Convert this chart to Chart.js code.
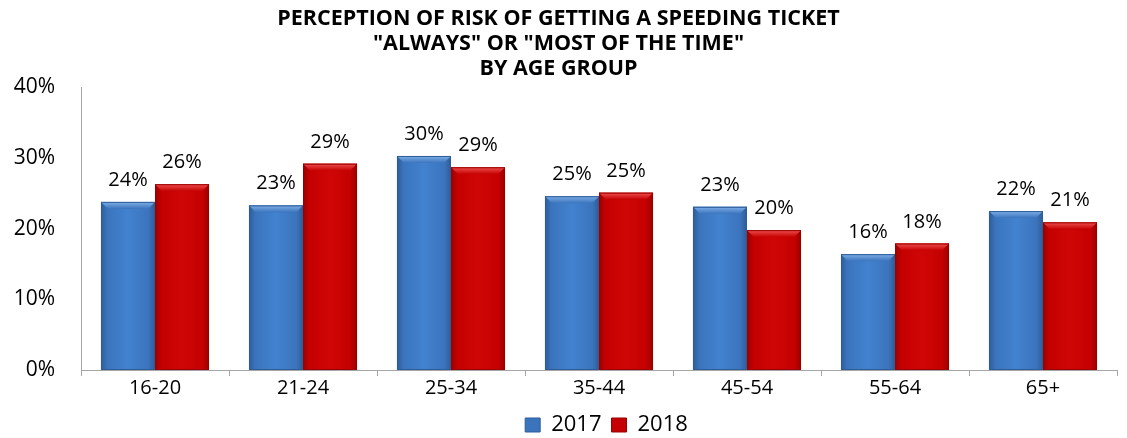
<!DOCTYPE html>
<html>
<head>
<meta charset="utf-8">
<script src="https://cdn.jsdelivr.net/npm/chart.js@4"></script>
<style>
html,body{margin:0;padding:0;background:#fff;}
#wrap{width:1127px;height:438px;position:relative;}
</style>
</head>
<body>
<div id="wrap"><canvas id="c" width="1127" height="438"></canvas></div>
<script>
const categories = ["16-20","21-24","25-34","35-44","45-54","55-64","65+"];
const series2017 = [23.8, 23.3, 30.3, 24.6, 23.1, 16.4, 22.5];
const series2018 = [26.3, 29.2, 28.7, 25.1, 19.8, 17.9, 20.9];
const labels2017 = ["24%","23%","30%","25%","23%","16%","22%"];
const labels2018 = ["26%","29%","29%","25%","20%","18%","21%"];
const yTicks = [0, 10, 20, 30, 40];
const titleLines = ["PERCEPTION OF RISK OF GETTING A SPEEDING TICKET", "\"ALWAYS\" OR \"MOST OF THE TIME\"", "BY AGE GROUP"];

const FONT = "'Open Sans', 'Liberation Sans', sans-serif";

function barGradient(ctx, el, dark, mid, light) {
  const g = ctx.createLinearGradient(el.x - el.width/2, 0, el.x + el.width/2, 0);
  g.addColorStop(0, dark);
  g.addColorStop(0.12, mid);
  g.addColorStop(0.5, light);
  g.addColorStop(0.88, mid);
  g.addColorStop(1, dark);
  return g;
}

const palette = [
  {dark:'#2E5C97', mid:'#3B74BD', light:'#4282CF', top:'#7FB0E8'},
  {dark:'#990000', mid:'#C40000', light:'#D00606', top:'#F05050'}
];

const bevelPlugin = {
  id: 'bevel',
  afterLayout(chart) {
    const lg = chart.legend;
    if (lg) { lg.top += 8; lg.bottom += 8; lg.left += 48; lg.right += 48; }
  },
  afterDatasetsDraw(chart) {
    const ctx = chart.ctx;
    chart.data.datasets.forEach((ds, di) => {
      const meta = chart.getDatasetMeta(di);
      const p = palette[di];
      meta.data.forEach((el) => {
        const left = el.x - el.width/2, right = el.x + el.width/2;
        const top = el.y, bottom = el.base;
        const b = Math.min(7, el.width/6);
        ctx.save();
        ctx.fillStyle = barGradient(ctx, el, p.dark, p.mid, p.light);
        ctx.fillRect(left, top, right-left, bottom-top);
        const tg = ctx.createLinearGradient(0, top, 0, top + b);
        tg.addColorStop(0, p.top);
        tg.addColorStop(1, p.mid);
        ctx.fillStyle = tg;
        ctx.beginPath();
        ctx.moveTo(left, top);
        ctx.lineTo(right, top);
        ctx.lineTo(right - b, top + b);
        ctx.lineTo(left + b, top + b);
        ctx.closePath();
        ctx.fill();
        ctx.strokeStyle = p.dark;
        ctx.lineWidth = 1;
        ctx.strokeRect(left + 0.5, top + 0.5, right-left-1, bottom-top-1);
        ctx.restore();
      });
    });
  }
};

const labelPlugin = {
  id: 'valueLabels',
  afterDatasetsDraw(chart) {
    const ctx = chart.ctx;
    const lbls = [labels2017, labels2018];
    ctx.save();
    ctx.font = "20px " + FONT;
    ctx.fillStyle = '#000';
    ctx.textAlign = 'center';
    ctx.textBaseline = 'alphabetic';
    chart.data.datasets.forEach((ds, di) => {
      const meta = chart.getDatasetMeta(di);
      meta.data.forEach((el, i) => {
        ctx.fillText(lbls[di][i], el.x, el.y - 16);
      });
    });
    ctx.restore();
  }
};

new Chart(document.getElementById('c'), {
  type: 'bar',
  data: {
    labels: categories,
    datasets: [
      {label: '2017', data: series2017, backgroundColor: '#3B74BD', borderWidth: 0},
      {label: '2018', data: series2018, backgroundColor: '#C40000', borderWidth: 0}
    ]
  },
  options: {
    responsive: false,
    animation: false,
    devicePixelRatio: 1,
    layout: {padding: {left: 0, right: 10, top: 6, bottom: 0}},
    categoryPercentage: 0.73,
    barPercentage: 1.0,
    plugins: {
      title: {
        display: true,
        text: titleLines,
        color: '#000',
        font: {family: FONT, size: 21.5, weight: 'bold', lineHeight: 1.17},
        padding: {top: 0, bottom: 6}
      },
      legend: {
        position: 'bottom',
        labels: {
          color: '#000',
          font: {family: FONT, size: 22},
          boxWidth: 15, boxHeight: 14, padding: 10,
          generateLabels(chart) {
            return chart.data.datasets.map((ds, i) => ({
              text: ds.label,
              fillStyle: palette[i].mid,
              strokeStyle: palette[i].dark,
              lineWidth: 1,
              datasetIndex: i
            }));
          }
        }
      },
      tooltip: {enabled: false}
    },
    scales: {
      x: {
        afterFit(scale) { scale.height = 26; },
        grid: {display: true, drawOnChartArea: false, drawTicks: true, tickLength: 6, color: '#A6A6A6', offset: true},
        border: {display: true, color: '#A6A6A6', width: 1},
        ticks: {color: '#000', font: {family: FONT, size: 20}, padding: 0}
      },
      y: {
        min: 0, max: 40,
        afterBuildTicks(scale) { scale.ticks = yTicks.map(v => ({value: v})); },
        afterFit(scale) { scale.width = 81; },
        grid: {display: false, drawTicks: false},
        border: {display: true, color: '#A6A6A6', width: 1},
        ticks: {color: '#000', font: {family: FONT, size: 21}, padding: 26, callback: v => v + '%'}
      }
    }
  },
  plugins: [bevelPlugin, labelPlugin]
});
</script>
</body>
</html>
